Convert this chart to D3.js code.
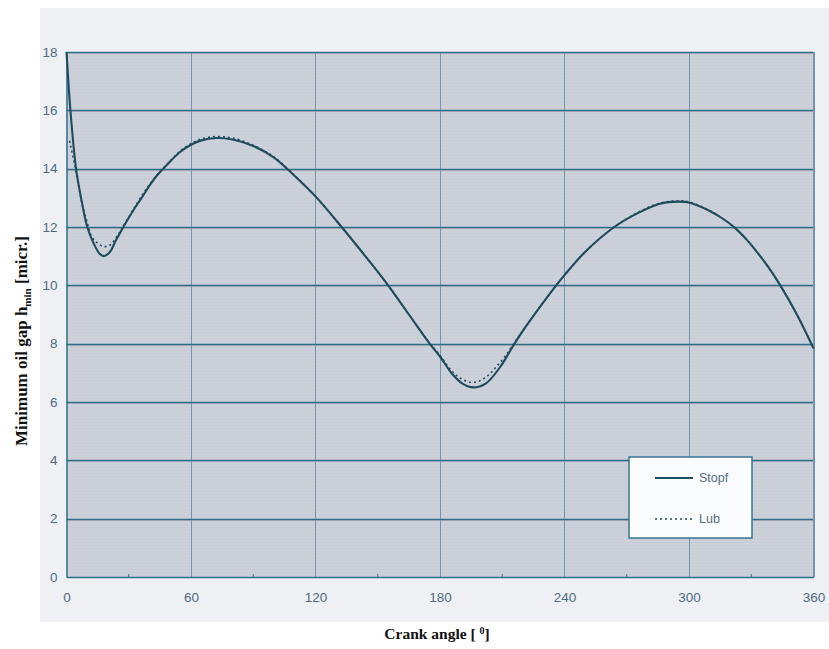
<!doctype html>
<html>
<head>
<meta charset="utf-8">
<title>Minimum oil gap</title>
<script src="https://cdn.jsdelivr.net/npm/d3@7"></script>
<style>
  body { margin: 0; background: white; }
  svg { display: block; }
  .tick text { font-family: Arial, "Liberation Sans", sans-serif; font-size: 13.5px; fill: #4f6d82; }
  .title { font-family: "Liberation Serif", "Times New Roman", serif; font-weight: bold; fill: #111; }
  .leg { font-family: Arial, "Liberation Sans", sans-serif; font-size: 12.5px; fill: #4f6d82; }
</style>
</head>
<body>
<svg id="chart" width="829" height="649"></svg>
<script>
// readings: [crank angle, gap]
var stopf = [[0, 18.0], [2, 15.9], [4.6, 14.0], [7, 13.0], [10, 12.0], [13, 11.45], [16, 11.08], [18, 11.0],
  [21, 11.15], [23.5, 11.5], [27.4, 12.0], [32, 12.55], [36.2, 13.0], [40, 13.42], [44, 13.8], [48, 14.1],
  [54.7, 14.57], [60, 14.82], [65, 14.97], [72, 15.05], [80, 15.0], [90, 14.78], [100, 14.38], [110, 13.75],
  [120, 13.05], [132.6, 12.0], [144, 11.0], [155, 10.0], [165, 9.0], [175, 8.0], [180, 7.56],
  [186, 6.95], [191, 6.62], [196, 6.5], [202, 6.63], [209, 7.2], [215, 7.9], [220, 8.45], [226, 9.05],
  [236, 10.0], [240, 10.35], [250, 11.15], [264, 12.0], [276, 12.5], [286, 12.8], [295, 12.87], [300, 12.84],
  [310, 12.55], [316, 12.3], [322, 11.98], [328, 11.55], [333, 11.12], [338, 10.65], [344, 10.0],
  [352, 9.0], [360, 7.84]];

var lub = [[1.5, 14.95], [5, 13.75], [7.5, 12.8], [10, 12.15], [12, 11.7], [14.5, 11.47], [18, 11.33],
  [21, 11.38], [25, 11.75], [28.2, 12.13], [32.2, 12.6], [37, 13.15], [40, 13.45], [44, 13.82], [48, 14.12],
  [54.7, 14.6], [60, 14.86], [65, 15.02], [72, 15.1], [80, 15.05], [90, 14.8], [100, 14.4], [110, 13.76],
  [120, 13.05], [132.6, 12.0], [144, 11.0], [155, 10.0], [165, 9.0], [175, 8.02], [180, 7.6],
  [185, 7.12], [189, 6.85], [194.5, 6.68], [199, 6.72], [203, 6.9], [207, 7.2], [212, 7.62], [216, 8.05],
  [220, 8.45], [226, 9.05], [236, 10.0], [240, 10.35], [250, 11.15], [264, 12.0], [276, 12.52], [286, 12.82],
  [295, 12.9], [300, 12.86], [310, 12.56], [316, 12.3], [322, 11.98], [328, 11.55], [333, 11.12],
  [338, 10.65], [344, 10.0], [352, 9.0], [360, 7.84]];

var xTicks = [0, 60, 120, 180, 240, 300, 360];
var xMinor = [30, 90, 150, 210, 270, 330];
var yTicks = [0, 2, 4, 6, 8, 10, 12, 14, 16, 18];
var seriesNames = ['Stopf', 'Lub'];

var svg = d3.select('#chart');
// note: "top" is taken by window.top, so plot edges get their own names
var pLeft = 66.5, pRight = 813.5, pTop = 52, pBottom = 577;

var x = d3.scaleLinear().domain([0, 360]).range([pLeft, pRight]);
var y = d3.scaleLinear().domain([0, 18]).range([pBottom, pTop]);
function crisp(v) { return Math.round(v) + 0.5; }

// outer panel
svg.append('rect')
    .attr('x', 40).attr('y', 8).attr('width', 789).attr('height', 614)
    .attr('fill', '#eef0f4');

// plot area
svg.append('rect')
    .attr('x', pLeft).attr('y', pTop).attr('width', pRight - pLeft).attr('height', pBottom - pTop)
    .attr('fill', '#c8cdd7');

// faint scan lines like the printed original
var scan = svg.append('g').attr('opacity', 0.25);
d3.range(pTop + 3, pBottom - 1, 3).forEach(function (py) {
  scan.append('line')
      .attr('x1', pLeft).attr('x2', pRight).attr('y1', py).attr('y2', py)
      .attr('stroke', '#e2e5ec').attr('stroke-width', 1);
});

// vertical grid
svg.append('g')
  .selectAll('line').data(xTicks.slice(1)).join('line')
    .attr('x1', function (d) { return crisp(x(d)); }).attr('x2', function (d) { return crisp(x(d)); })
    .attr('y1', pTop).attr('y2', pBottom)
    .attr('stroke', '#7196ad').attr('stroke-width', 1);

// horizontal grid (faint red shadow underneath)
svg.append('g')
  .selectAll('line').data(yTicks.slice(1)).join('line')
    .attr('x1', pLeft).attr('x2', pRight)
    .attr('y1', function (d) { return crisp(y(d)) + 1; }).attr('y2', function (d) { return crisp(y(d)) + 1; })
    .attr('stroke', '#b9969c').attr('stroke-width', 1).attr('opacity', 0.45);
svg.append('g')
  .selectAll('line').data(yTicks.slice(1)).join('line')
    .attr('x1', pLeft).attr('x2', pRight)
    .attr('y1', function (d) { return crisp(y(d)); }).attr('y2', function (d) { return crisp(y(d)); })
    .attr('stroke', '#2f6f8c').attr('stroke-width', 1.4);

// axes
var xAxis = svg.append('g')
    .attr('transform', 'translate(0,' + pBottom + ')')
    .call(d3.axisBottom(x).tickValues(xTicks).tickSize(0).tickPadding(15));
xAxis.select('.domain').attr('stroke', '#2f6f8c').attr('stroke-width', 1.5);

svg.append('g')
  .selectAll('line').data(xMinor).join('line')
    .attr('x1', function (d) { return x(d); }).attr('x2', function (d) { return x(d); })
    .attr('y1', pBottom).attr('y2', pBottom - 3)
    .attr('stroke', '#2f6f8c').attr('stroke-width', 1);

var yAxis = svg.append('g')
    .attr('transform', 'translate(' + pLeft + ',0)')
    .call(d3.axisLeft(y).tickValues(yTicks).tickSize(0).tickPadding(9));
yAxis.select('.domain').attr('stroke', '#2f6f8c').attr('stroke-width', 1.5);

// right border
svg.append('line')
    .attr('x1', pRight).attr('x2', pRight).attr('y1', pTop).attr('y2', pBottom)
    .attr('stroke', '#7196ad').attr('stroke-width', 1);

// curves
var line = d3.line()
    .x(function (d) { return x(d[0]); })
    .y(function (d) { return y(d[1]); })
    .curve(d3.curveCatmullRom.alpha(0.5));

svg.append('path')
    .datum(lub)
    .attr('d', line)
    .attr('fill', 'none')
    .attr('stroke', '#1e4c5c')
    .attr('stroke-width', 1.6)
    .attr('stroke-dasharray', '2,3');

svg.append('path')
    .datum(stopf)
    .attr('d', line)
    .attr('fill', 'none')
    .attr('stroke', '#1e4c5c')
    .attr('stroke-width', 2.1);

// legend
var lg = svg.append('g');
lg.append('rect')
    .attr('x', 629).attr('y', 457).attr('width', 123).attr('height', 81)
    .attr('fill', '#fbfcfd').attr('stroke', '#3d7590').attr('stroke-width', 1.5);
seriesNames.forEach(function (name, i) {
  var ly = 478 + i * 41;
  lg.append('line')
      .attr('x1', 655).attr('x2', 693).attr('y1', ly).attr('y2', ly)
      .attr('stroke', '#1e4c5c')
      .attr('stroke-width', i === 0 ? 2 : 1.4)
      .attr('stroke-dasharray', i === 0 ? null : '2,3');
  lg.append('text').attr('class', 'leg')
      .attr('x', 699).attr('y', ly + 4)
      .text(name);
});

// axis titles
var yt = svg.append('text').attr('class', 'title')
    .attr('font-size', '17px')
    .attr('transform', 'translate(27,341) rotate(-90)')
    .attr('text-anchor', 'middle');
yt.append('tspan').text('Minimum oil gap h');
yt.append('tspan').attr('font-size', '11px').attr('dy', 4).text('min');
yt.append('tspan').attr('dy', -4).text(' [micr.]');

var xt = svg.append('text').attr('class', 'title')
    .attr('font-size', '15.5px')
    .attr('x', 437).attr('y', 639)
    .attr('text-anchor', 'middle');
xt.append('tspan').text('Crank angle [ ');
xt.append('tspan').attr('font-size', '10px').attr('dy', -5).text('0');
xt.append('tspan').attr('dy', 5).text(']');
</script>
</body>
</html>
